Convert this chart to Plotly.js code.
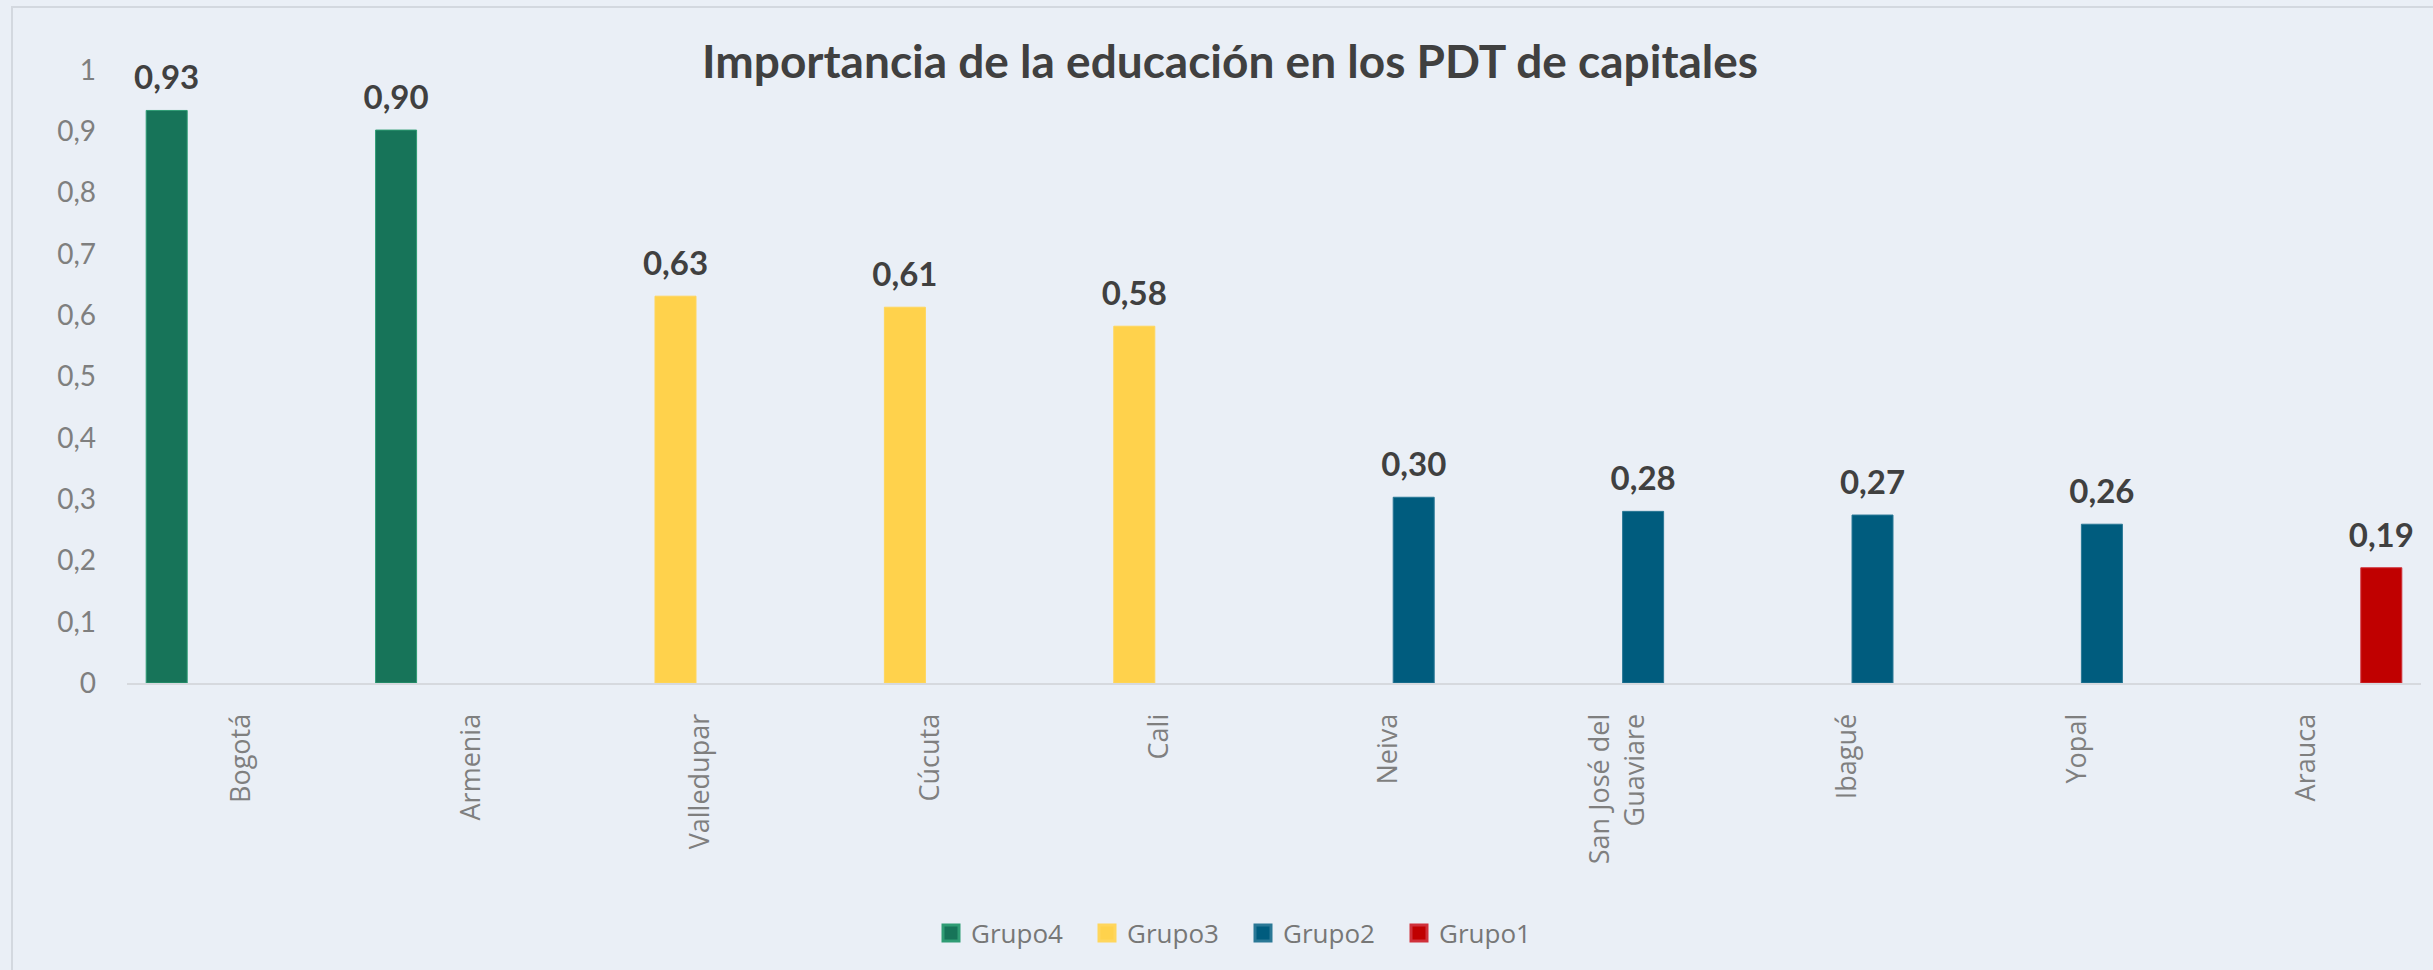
<!DOCTYPE html>
<html>
<head>
<meta charset="utf-8">
<script src="https://cdn.plot.ly/plotly-3.0.1.min.js"></script>
<style>
html,body{margin:0;padding:0;background:#eaeff6;}
#chart{width:2433px;height:970px;}
</style>
</head>
<body>
<div id="chart"></div>
<script>
const categories = ['Bogotá','Armenia','Valledupar','Cúcuta','Cali','Neiva','San José del<br>Guaviare','Ibagué','Yopal','Arauca'];
const seriesNames = ['Grupo4','Grupo3','Grupo2','Grupo1'];
const grupo4 = [0.934, 0.902, null, null, null, null, null, null, null, null];
const grupo3 = [null, null, 0.631, 0.613, 0.582, null, null, null, null, null];
const grupo2 = [null, null, null, null, null, 0.303, 0.280, 0.274, 0.259, null];
const grupo1 = [null, null, null, null, null, null, null, null, null, 0.188];
const colors = ['#177459', '#FFD24C', '#005C7E', '#C00000'];
const lineColors = ['#2f9c74', '#ffd65c', '#2a7896', '#d0303a'];
const title = 'Importancia de la educación en los PDT de capitales';
const topText = 'con educación.';
const labelGap = 0.018; // visual spacing between bar top and its value label (style)

const series = [grupo4, grupo3, grupo2, grupo1];

// bars
const barTraces = series.map((vals, i) => ({
  type: 'bar',
  name: seriesNames[i],
  x: categories,
  y: vals,
  marker: {color: colors[i], line: {color: lineColors[i], width: 1}},
  showlegend: false,
  hoverinfo: 'skip'
}));

// value labels: transparent spacer bars on an overlaid copy of the axes,
// grouped exactly like the real bars, carrying the value as outside text
const labelTraces = series.map((vals, i) => ({
  type: 'bar',
  name: seriesNames[i] + ' etiquetas',
  x: categories,
  base: vals,
  y: vals.map(v => (v == null ? null : labelGap)),
  customdata: vals,
  xaxis: 'x2',
  yaxis: 'y2',
  marker: {color: 'rgba(0,0,0,0)', line: {width: 0}},
  texttemplate: '%{customdata:.2f}',
  textposition: 'outside',
  constraintext: 'none',
  cliponaxis: false,
  textfont: {family: 'Lato, sans-serif', size: 33, color: '#404040', weight: 'bold'},
  showlegend: false,
  hoverinfo: 'skip'
}));

// legend entries (square keys)
const legendTraces = series.map((vals, i) => ({
  type: 'scatter',
  mode: 'markers',
  name: seriesNames[i],
  x: [null],
  y: [null],
  xaxis: 'x2',
  yaxis: 'y2',
  marker: {symbol: 'square', size: 16, color: colors[i], line: {color: lineColors[i], width: 3}},
  showlegend: true,
  hoverinfo: 'skip'
}));

const layout = {
  width: 2433,
  height: 970,
  separators: ',.',
  paper_bgcolor: '#eaeff6',
  plot_bgcolor: 'rgba(0,0,0,0)',
  margin: {l: 127, r: 12, t: 70, b: 287, pad: 0},
  barmode: 'group',
  bargap: 0.128,
  bargroupgap: 0.18,
  title: {
    text: '<b>' + title + '</b>',
    font: {family: 'Lato, sans-serif', size: 46, color: '#404040'},
    x: 1230 / 2433, xanchor: 'center', xref: 'container',
    y: 1 - 62 / 970, yanchor: 'middle', yref: 'container'
  },
  xaxis: {
    type: 'category',
    categoryorder: 'array',
    categoryarray: categories,
    showgrid: false,
    showline: true,
    linecolor: '#d6d9de',
    linewidth: 2,
    ticks: '',
    tickangle: -90,
    ticklabelstandoff: 18,
    tickfont: {family: '"Open Sans", sans-serif', size: 27, color: '#7f7f7f'},
    zeroline: false,
    fixedrange: true
  },
  yaxis: {
    range: [0, 1],
    dtick: 0.1,
    tick0: 0,
    showgrid: false,
    showline: false,
    zeroline: false,
    ticks: '',
    ticklabelstandoff: 30,
    tickfont: {family: 'Lato, sans-serif', size: 28, color: '#7f7f7f'},
    fixedrange: true
  },
  xaxis2: {
    type: 'category', categoryorder: 'array', categoryarray: categories,
    overlaying: 'x', matches: 'x', visible: false, fixedrange: true
  },
  yaxis2: {overlaying: 'y', matches: 'y', visible: false, range: [0, 1], fixedrange: true},
  showlegend: true,
  legend: {
    orientation: 'h',
    x: (942 - 11 - 127) / 2294,
    xanchor: 'left',
    y: (683 - 933) / 613,
    yanchor: 'middle',
    font: {family: '"Open Sans", sans-serif', size: 26, color: '#777777'},
    bgcolor: 'rgba(0,0,0,0)',
    entrywidth: 111,
    entrywidthmode: 'pixels',
    traceorder: 'normal'
  },
  shapes: [{
    type: 'rect', xref: 'paper', yref: 'paper',
    x0: (12 - 127) / 2294, x1: 1.01, y0: -0.6, y1: (683 - 7) / 613,
    line: {color: '#d3d8df', width: 2}, fillcolor: 'rgba(0,0,0,0)', layer: 'below'
  }],
  annotations: [{
    text: '<b>' + topText + '</b>',
    xref: 'paper', yref: 'paper',
    x: (37 - 127) / 2294, xanchor: 'left',
    y: (683 - 12) / 613, yanchor: 'bottom',
    showarrow: false,
    font: {family: 'Lato, sans-serif', size: 53, color: '#000000'}
  }]
};

Plotly.newPlot('chart', barTraces.concat(labelTraces, legendTraces), layout, {staticPlot: true, displayModeBar: false});
</script>
</body>
</html>
